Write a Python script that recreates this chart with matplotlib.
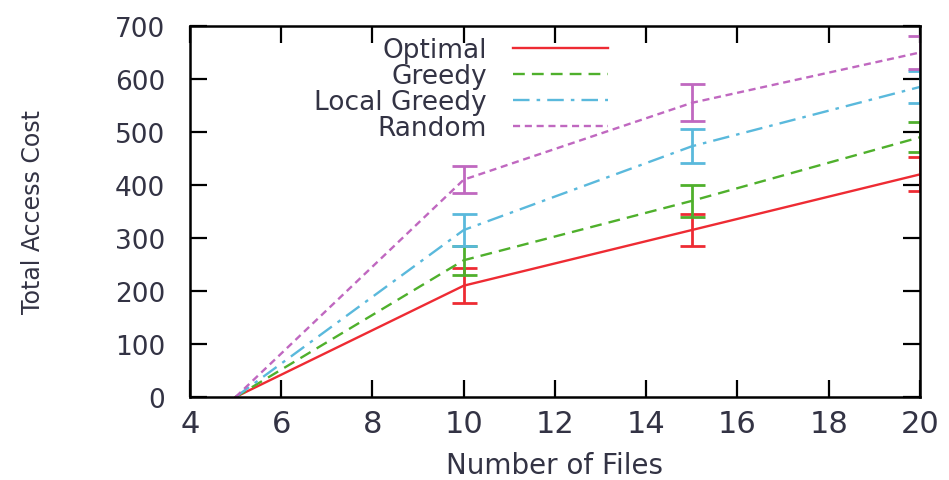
import numpy as np
import matplotlib
matplotlib.use("Agg")
import matplotlib.pyplot as plt

plt.rcParams['font.family'] = ['DejaVu Sans']

# data
files = [5, 10, 15, 20]
optimal = [0, 210, 315, 420]
optimal_err = [0, 33, 30, 32]
greedy = [0, 258, 370, 490]
greedy_err = [0, 27, 30, 28]
local_greedy = [0, 315, 473, 585]
local_greedy_err = [0, 30, 32, 30]
random_ = [0, 410, 555, 650]
random_err = [0, 25, 35, 32]

x_ticks = [4, 6, 8, 10, 12, 14, 16, 18, 20]
y_ticks = [0, 100, 200, 300, 400, 500, 600, 700]

series = [
    ("Optimal", optimal, optimal_err, '#ee2b33', '-'),
    ("Greedy", greedy, greedy_err, '#4fb02c', (0, (5, 3))),
    ("Local Greedy", local_greedy, local_greedy_err, '#5ab9dc', (0, (7, 3, 1.5, 3))),
    ("Random", random_, random_err, '#c068c0', (0, (3, 2))),
]

fig = plt.figure(figsize=(9.49, 4.81), dpi=100)
ax = fig.add_axes([0.2002, 0.1726, 0.7692, 0.7713])

for name, vals, errs, col, ls in series:
    ax.plot(files, vals, color=col, linestyle=ls, lw=1.7, label=name)
    # error bars only where an error was measured
    xs = [f for f, e in zip(files, errs) if e > 0]
    ys = [v for v, e in zip(vals, errs) if e > 0]
    es = [e for e in errs if e > 0]
    ax.errorbar(xs, ys, yerr=es, fmt='none', ecolor=col, elinewidth=2,
                capsize=9, capthick=2)

ax.set_xlim(4, 20)
ax.set_ylim(0, 700)
ax.set_xticks(x_ticks)
ax.set_yticks(y_ticks)
ax.tick_params(direction='in', length=12, width=1.6, top=True, right=True,
               colors='black')
ax.tick_params(axis='y', labelsize=19, pad=18, labelcolor='#333344')
ax.tick_params(axis='x', labelsize=22, pad=9, labelcolor='#333344')
for sp in ax.spines.values():
    sp.set_linewidth(1.8)

ax.set_xlabel('Number of Files', fontsize=20, color='#333344', labelpad=9)
ax.set_ylabel('Total Access Cost', fontsize=17, color='#333344', labelpad=50)

leg = ax.legend(loc='upper right', bbox_to_anchor=(0.573, 0.97), frameon=False,
                markerfirst=False, fontsize=19, handlelength=3.6,
                handletextpad=1.0, labelspacing=0.0, borderpad=0,
                borderaxespad=0)
texts = leg.get_texts()
for t in texts:
    t.set_color('#333344')

# right-align legend text like gnuplot does:
# find how far a unit of text position moves the text, then shift each label
fig.canvas.draw()
renderer = fig.canvas.get_renderer()
target = max(t.get_window_extent(renderer).x1 for t in texts)

probe = texts[0]
before = probe.get_window_extent(renderer).x1
px, py = probe.get_position()
probe.set_position((px + 10, py))
fig.canvas.draw()
scale = (probe.get_window_extent(renderer).x1 - before) / 10.0
probe.set_position((px, py))
fig.canvas.draw()

for t in texts:
    r = t.get_window_extent(renderer).x1
    px, py = t.get_position()
    t.set_position((px + (target - r) / scale, py))

fig.savefig('out.png', dpi=100)
